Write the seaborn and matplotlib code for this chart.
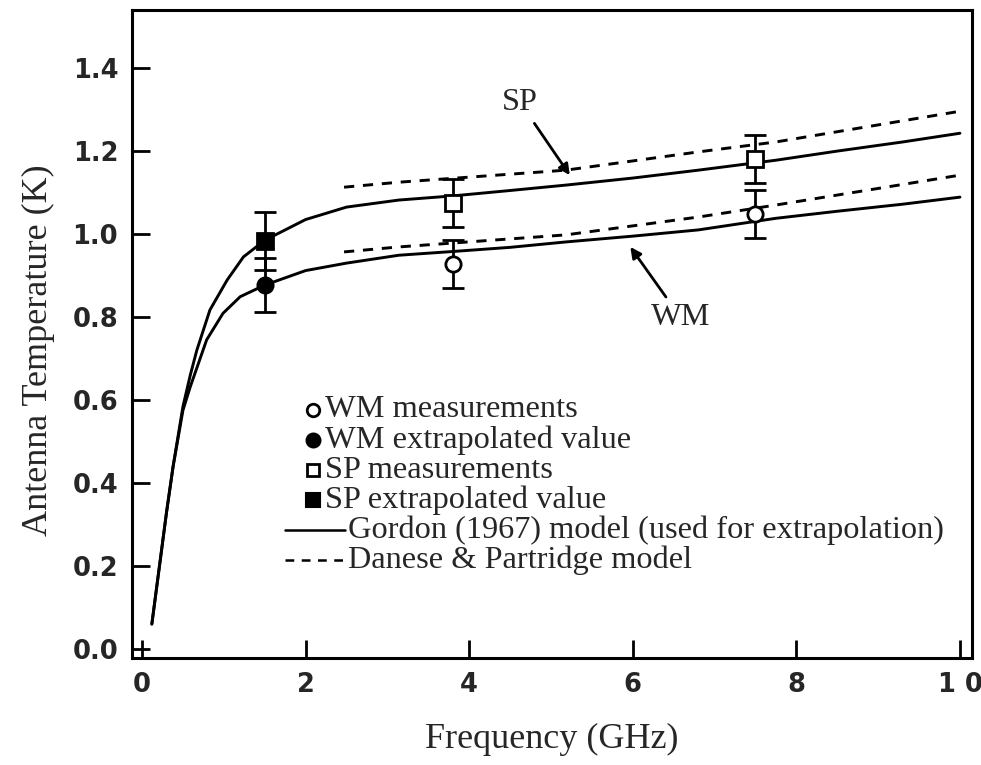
import matplotlib
matplotlib.use("Agg")
import matplotlib.pyplot as plt
import seaborn as sns
import pandas as pd
import numpy as np

# ---- data ----
gordon_sp_x = [0.12, 0.2, 0.3, 0.38, 0.5, 0.59, 0.67, 0.83, 1.04, 1.24, 1.5, 2.0, 2.5, 3.14, 3.8, 4.5, 5.18, 6.0, 6.8, 7.75, 8.5, 9.3, 10.0]
gordon_sp_y = [0.06, 0.18, 0.33, 0.44, 0.584, 0.66, 0.72, 0.817, 0.889, 0.945, 0.985, 1.035, 1.065, 1.082, 1.092, 1.105, 1.118, 1.135, 1.154, 1.178, 1.2, 1.222, 1.243]
gordon_wm_x = [0.12, 0.2, 0.3, 0.38, 0.5, 0.59, 0.79, 0.99, 1.2, 1.5, 2.0, 2.5, 3.14, 3.8, 4.5, 5.18, 6.0, 6.8, 7.75, 8.5, 9.3, 10.0]
gordon_wm_y = [0.06, 0.18, 0.33, 0.44, 0.575, 0.632, 0.745, 0.809, 0.849, 0.877, 0.912, 0.93, 0.949, 0.958, 0.968, 0.981, 0.995, 1.01, 1.038, 1.055, 1.072, 1.089]
dp_sp_x = [2.47, 3.14, 5.18, 6.8, 7.75, 10.0]
dp_sp_y = [1.113, 1.125, 1.154, 1.198, 1.222, 1.296]
dp_wm_x = [2.47, 3.14, 5.18, 6.8, 7.75, 10.0]
dp_wm_y = [0.957, 0.969, 0.998, 1.041, 1.07, 1.142]

wm_meas_x = [3.8, 7.5]
wm_meas_y = [0.928, 1.048]
wm_meas_err = [0.058, 0.058]
sp_meas_x = [3.8, 7.5]
sp_meas_y = [1.075, 1.181]
sp_meas_err = [0.058, 0.058]
wm_ext_x = [1.5]
wm_ext_y = [0.877]
wm_ext_err = [0.065]
sp_ext_x = [1.5]
sp_ext_y = [0.983]
sp_ext_err = [0.07]

x_ticks = [0, 2, 4, 6, 8, 10]
x_ticklabels = ["0", "2", "4", "6", "8", "1 0"]
y_ticks = [0.0, 0.2, 0.4, 0.6, 0.8, 1.0, 1.2, 1.4]
y_ticklabels = ["0.0", "0.2", "0.4", "0.6", "0.8", "1.0", "1.2", "1.4"]

legend_labels = ["WM measurements", "WM extrapolated value", "SP measurements",
                 "SP extrapolated value", "Gordon (1967) model (used for extrapolation)",
                 "Danese & Partridge model"]

# ---- style ----
sns.set_theme(style="white")
plt.rcParams["font.family"] = ["Liberation Serif", "DejaVu Serif"]

fig = plt.figure(figsize=(9.81, 7.65), dpi=100)
ax = fig.add_axes([0.1346, 0.1399, 0.8562, 0.8470])

LW = 2.1
DASH = (3.5, 3.0)

def curve(xs, ys, dashed=False):
    df = pd.DataFrame({"x": xs, "y": ys})
    sns.lineplot(data=df, x="x", y="y", ax=ax, color="black", lw=LW,
                 sort=False, estimator=None)
    line = ax.lines[-1]
    if dashed:
        line.set_dashes(DASH)
    line.set_solid_capstyle("round")

curve(gordon_sp_x, gordon_sp_y)
curve(gordon_wm_x, gordon_wm_y)
curve(dp_sp_x, dp_sp_y, dashed=True)
curve(dp_wm_x, dp_wm_y, dashed=True)

ekw = dict(ecolor="black", elinewidth=2.0, capsize=8, capthick=2.2, ls="none",
           markersize=11, markeredgewidth=2.0, markeredgecolor="black", zorder=5)
ax.errorbar(wm_meas_x, wm_meas_y, yerr=wm_meas_err, fmt="o", markerfacecolor="white", **ekw)
ax.errorbar(sp_meas_x, sp_meas_y, yerr=sp_meas_err, fmt="s", markerfacecolor="white", **ekw)
ax.errorbar(wm_ext_x, wm_ext_y, yerr=wm_ext_err, fmt="o", markerfacecolor="black", **ekw)
ax.errorbar(sp_ext_x, sp_ext_y, yerr=sp_ext_err, fmt="s", markerfacecolor="black", **ekw)

# ---- annotations ----
ax.annotate("SP", xy=(5.23, 1.142), xytext=(4.62, 1.318), fontsize=23.3,
            ha="center", va="center",
            arrowprops=dict(arrowstyle="-|>", color="black", lw=2.0,
                            mutation_scale=16, shrinkA=3, shrinkB=0))
ax.annotate("WM", xy=(5.97, 0.969), xytext=(6.58, 0.80), fontsize=23.3,
            ha="center", va="center",
            arrowprops=dict(arrowstyle="-|>", color="black", lw=2.0,
                            mutation_scale=16, shrinkA=2, shrinkB=0))

# ---- manual legend (axes fraction) ----
top_row, step = 0.383, 0.0465
rows = [top_row - i * step for i in range(6)]
mk_x = 0.2155
txt_x_mark = 0.2298
txt_x_line = 0.257
tr = ax.transAxes
ax.plot([mk_x], [rows[0]], "o", transform=tr, ms=9, mfc="white", mec="black", mew=2.0, clip_on=False)
ax.plot([mk_x], [rows[1]], "o", transform=tr, ms=10, mfc="black", mec="black", mew=1.5, clip_on=False)
ax.plot([mk_x], [rows[2]], "s", transform=tr, ms=9, mfc="white", mec="black", mew=2.0, clip_on=False)
ax.plot([mk_x], [rows[3]], "s", transform=tr, ms=10, mfc="black", mec="black", mew=1.5, clip_on=False)
ax.plot([0.182, 0.254], [rows[4], rows[4]], "-", transform=tr, color="black", lw=1.8)
dl, = ax.plot([0.182, 0.254], [rows[5], rows[5]], "-", transform=tr, color="black", lw=1.8)
dl.set_dashes((3.5, 3.0))
for i, lab in enumerate(legend_labels):
    xx = txt_x_mark if i < 4 else txt_x_line
    ax.text(xx, rows[i], lab, transform=tr, fontsize=23.3, ha="left", va="center")

# ---- axes ----
ax.set_xlim(-0.122, 10.147)
ax.set_ylim(-0.0217, 1.540)
ax.set_xticks(x_ticks)
ax.set_xticklabels(x_ticklabels)
ax.set_yticks(y_ticks)
ax.set_yticklabels(y_ticklabels)
for lab in ax.get_xticklabels() + ax.get_yticklabels():
    lab.set_fontfamily("DejaVu Sans")
    lab.set_fontweight("bold")
    lab.set_fontsize(18.5)
ax.tick_params(axis="both", direction="in", length=13, width=2.0, color="black",
               pad=10, bottom=True, left=True, top=False, right=False)
for s in ax.spines.values():
    s.set_visible(True)
    s.set_color("black")
    s.set_linewidth(2.2)
ax.set_xlabel("Frequency (GHz)", fontsize=26, labelpad=18)
ax.set_ylabel("Antenna Temperature (K)", fontsize=26)
ax.yaxis.set_label_coords(-0.092, 0.475)
ax.grid(False)

fig.savefig("out.png", dpi=100)
